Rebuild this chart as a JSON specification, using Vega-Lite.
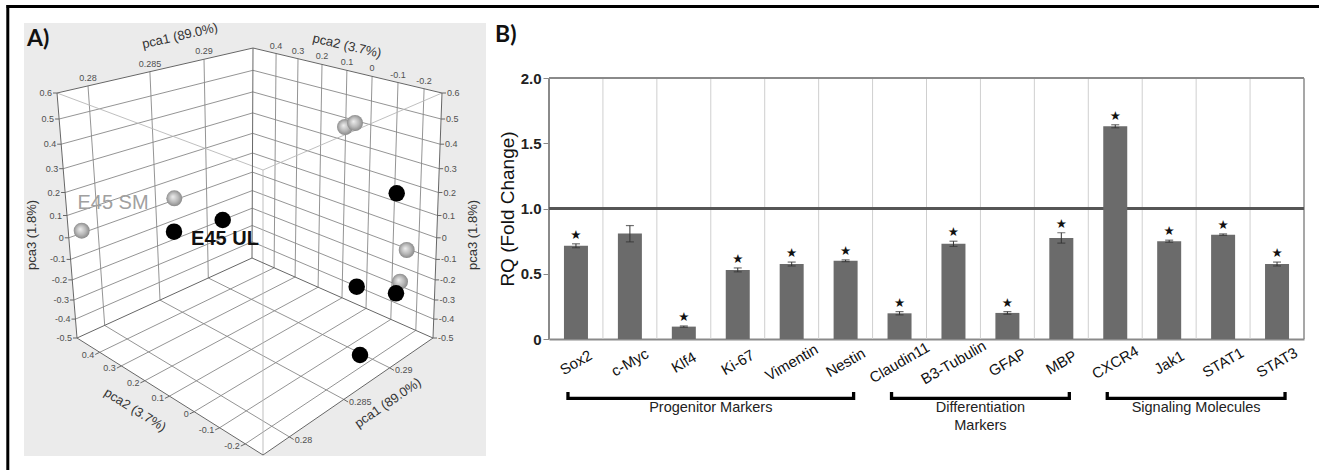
{
  "$schema": "https://vega.github.io/schema/vega-lite/v6.json",
  "padding": 0,
  "background": "white",
  "bounds": "flush",
  "spacing": 63,
  "config": {"view": {"stroke": null}, "font": "Liberation Sans"},
  "datasets": {
    "segs": [
      {"k":"g","x":59.1,"y":119,"x2":252.9,"y2":70.3},
      {"k":"g","x":61.2,"y":144.2,"x2":252.8,"y2":91.9},
      {"k":"g","x":63.2,"y":168.7,"x2":252.7,"y2":112.9},
      {"k":"g","x":65.1,"y":192.5,"x2":252.6,"y2":133.3},
      {"k":"g","x":67,"y":215.5,"x2":252.5,"y2":153},
      {"k":"g","x":68.8,"y":237.8,"x2":252.4,"y2":172.1},
      {"k":"g","x":70.6,"y":259.4,"x2":252.3,"y2":190.6},
      {"k":"g","x":72.3,"y":279.9,"x2":252.2,"y2":208.2},
      {"k":"g","x":73.9,"y":300,"x2":252.2,"y2":225.5},
      {"k":"g","x":75.5,"y":319.1,"x2":252.1,"y2":241.8},
      {"k":"g","x":252.9,"y":70.3,"x2":441.1,"y2":119},
      {"k":"g","x":252.8,"y":91.9,"x2":440.1,"y2":144.2},
      {"k":"g","x":252.7,"y":112.9,"x2":439.2,"y2":168.7},
      {"k":"g","x":252.6,"y":133.3,"x2":438.4,"y2":192.5},
      {"k":"g","x":252.5,"y":153,"x2":437.5,"y2":215.5},
      {"k":"g","x":252.4,"y":172.1,"x2":436.7,"y2":237.8},
      {"k":"g","x":252.3,"y":190.6,"x2":435.9,"y2":259.4},
      {"k":"g","x":252.2,"y":208.2,"x2":435.1,"y2":279.9},
      {"k":"g","x":252.2,"y":225.5,"x2":434.4,"y2":300},
      {"k":"g","x":252.1,"y":241.8,"x2":433.7,"y2":319.1},
      {"k":"g","x":88,"y":85.9,"x2":104.7,"y2":325.4},
      {"k":"g","x":149.9,"y":71.7,"x2":160,"y2":300.1},
      {"k":"g","x":204,"y":59.3,"x2":208.3,"y2":278},
      {"k":"g","x":276.1,"y":53.5,"x2":274.1,"y2":267.8},
      {"k":"g","x":298,"y":58.7,"x2":295.1,"y2":277},
      {"k":"g","x":322,"y":64.4,"x2":318.1,"y2":287.2},
      {"k":"g","x":346.9,"y":70.4,"x2":342,"y2":297.8},
      {"k":"g","x":372.1,"y":76.4,"x2":366,"y2":308.4},
      {"k":"g","x":398,"y":82.5,"x2":390.8,"y2":319.4},
      {"k":"g","x":424.1,"y":88.7,"x2":415.8,"y2":330.4},
      {"k":"g","x":99.7,"y":352.3,"x2":274.1,"y2":267.8},
      {"k":"g","x":121.3,"y":365.9,"x2":295.1,"y2":277},
      {"k":"g","x":144.9,"y":380.7,"x2":318.1,"y2":287.2},
      {"k":"g","x":169.4,"y":396.2,"x2":342,"y2":297.8},
      {"k":"g","x":194.2,"y":411.7,"x2":366,"y2":308.4},
      {"k":"g","x":219.7,"y":427.7,"x2":390.8,"y2":319.4},
      {"k":"g","x":245.3,"y":443.9,"x2":415.8,"y2":330.4},
      {"k":"g","x":289.4,"y":436.9,"x2":104.7,"y2":325.4},
      {"k":"g","x":343.8,"y":399.4,"x2":160,"y2":300.1},
      {"k":"g","x":389.7,"y":367.8,"x2":208.3,"y2":278},
      {"k":"e","x":57,"y":93,"x2":253,"y2":48},
      {"k":"e","x":253,"y":48,"x2":442,"y2":93},
      {"k":"e","x":57,"y":93,"x2":77,"y2":338},
      {"k":"e","x":442,"y":93,"x2":433,"y2":338},
      {"k":"e","x":253,"y":48,"x2":252,"y2":258},
      {"k":"e","x":77,"y":338,"x2":252,"y2":258},
      {"k":"e","x":252,"y":258,"x2":433,"y2":338},
      {"k":"e","x":77,"y":338,"x2":263,"y2":455},
      {"k":"e","x":263,"y":455,"x2":433,"y2":338},
      {"k":"l","x":57,"y":93,"x2":263,"y2":170},
      {"k":"l","x":442,"y":93,"x2":263,"y2":170},
      {"k":"l","x":263,"y":170,"x2":263,"y2":455},
      {"k":"t","x":57,"y":93,"x2":53,"y2":93},
      {"k":"t","x":59.1,"y":119,"x2":55.1,"y2":119},
      {"k":"t","x":61.2,"y":144.2,"x2":57.2,"y2":144.2},
      {"k":"t","x":63.2,"y":168.7,"x2":59.2,"y2":168.7},
      {"k":"t","x":65.1,"y":192.5,"x2":61.1,"y2":192.5},
      {"k":"t","x":67,"y":215.5,"x2":63,"y2":215.5},
      {"k":"t","x":68.8,"y":237.8,"x2":64.8,"y2":237.8},
      {"k":"t","x":70.6,"y":259.4,"x2":66.6,"y2":259.4},
      {"k":"t","x":72.3,"y":279.9,"x2":68.3,"y2":279.9},
      {"k":"t","x":73.9,"y":300,"x2":69.9,"y2":300},
      {"k":"t","x":75.5,"y":319.1,"x2":71.5,"y2":319.1},
      {"k":"t","x":77,"y":338,"x2":73,"y2":338},
      {"k":"t","x":442,"y":93,"x2":446,"y2":93},
      {"k":"t","x":441.1,"y":119,"x2":445.1,"y2":119},
      {"k":"t","x":440.1,"y":144.2,"x2":444.1,"y2":144.2},
      {"k":"t","x":439.2,"y":168.7,"x2":443.2,"y2":168.7},
      {"k":"t","x":438.4,"y":192.5,"x2":442.4,"y2":192.5},
      {"k":"t","x":437.5,"y":215.5,"x2":441.5,"y2":215.5},
      {"k":"t","x":436.7,"y":237.8,"x2":440.7,"y2":237.8},
      {"k":"t","x":435.9,"y":259.4,"x2":439.9,"y2":259.4},
      {"k":"t","x":435.1,"y":279.9,"x2":439.1,"y2":279.9},
      {"k":"t","x":434.4,"y":300,"x2":438.4,"y2":300},
      {"k":"t","x":433.7,"y":319.1,"x2":437.7,"y2":319.1},
      {"k":"t","x":433,"y":338,"x2":437,"y2":338},
      {"k":"t","x":99.7,"y":352.3,"x2":95.2,"y2":354.5},
      {"k":"t","x":121.3,"y":365.9,"x2":116.8,"y2":368.1},
      {"k":"t","x":144.9,"y":380.7,"x2":140.4,"y2":382.9},
      {"k":"t","x":169.4,"y":396.2,"x2":164.9,"y2":398.4},
      {"k":"t","x":194.2,"y":411.7,"x2":189.7,"y2":413.9},
      {"k":"t","x":219.7,"y":427.7,"x2":215.2,"y2":429.9},
      {"k":"t","x":245.3,"y":443.9,"x2":240.8,"y2":446.1},
      {"k":"t","x":289.4,"y":436.9,"x2":293.7,"y2":439.5},
      {"k":"t","x":343.8,"y":399.4,"x2":348.1,"y2":402},
      {"k":"t","x":389.7,"y":367.8,"x2":394,"y2":370.4},
      {"k":"b","x":6.5,"y":6.5,"x2":1319,"y2":6.5},
      {"k":"b","x":7.8,"y":5,"x2":7.8,"y2":470}
    ],
    "hex": [
      {"o":0,"x":57,"y":93},
      {"o":1,"x":253,"y":48},
      {"o":2,"x":442,"y":93},
      {"o":3,"x":433,"y":338},
      {"o":4,"x":263,"y":455},
      {"o":5,"x":77,"y":338}
    ],
    "ticklab": [
      {"s":"L","x":57,"y":93,"t":"0.6"},
      {"s":"L","x":59.1,"y":119,"t":"0.5"},
      {"s":"L","x":61.2,"y":144.2,"t":"0.4"},
      {"s":"L","x":63.2,"y":168.7,"t":"0.3"},
      {"s":"L","x":65.1,"y":192.5,"t":"0.2"},
      {"s":"L","x":67,"y":215.5,"t":"0.1"},
      {"s":"L","x":68.8,"y":237.8,"t":"0"},
      {"s":"L","x":70.6,"y":259.4,"t":"-0.1"},
      {"s":"L","x":72.3,"y":279.9,"t":"-0.2"},
      {"s":"L","x":73.9,"y":300,"t":"-0.3"},
      {"s":"L","x":75.5,"y":319.1,"t":"-0.4"},
      {"s":"L","x":77,"y":338,"t":"-0.5"},
      {"s":"R","x":442,"y":93,"t":"0.6"},
      {"s":"R","x":441.1,"y":119,"t":"0.5"},
      {"s":"R","x":440.1,"y":144.2,"t":"0.4"},
      {"s":"R","x":439.2,"y":168.7,"t":"0.3"},
      {"s":"R","x":438.4,"y":192.5,"t":"0.2"},
      {"s":"R","x":437.5,"y":215.5,"t":"0.1"},
      {"s":"R","x":436.7,"y":237.8,"t":"0"},
      {"s":"R","x":435.9,"y":259.4,"t":"-0.1"},
      {"s":"R","x":435.1,"y":279.9,"t":"-0.2"},
      {"s":"R","x":434.4,"y":300,"t":"-0.3"},
      {"s":"R","x":433.7,"y":319.1,"t":"-0.4"},
      {"s":"R","x":433,"y":338,"t":"-0.5"},
      {"s":"T","x":88,"y":85.9,"t":"0.28"},
      {"s":"T","x":149.9,"y":71.7,"t":"0.285"},
      {"s":"T","x":204,"y":59.3,"t":"0.29"},
      {"s":"T","x":276.1,"y":53.5,"t":"0.4"},
      {"s":"T","x":298,"y":58.7,"t":"0.3"},
      {"s":"T","x":322,"y":64.4,"t":"0.2"},
      {"s":"T","x":346.9,"y":70.4,"t":"0.1"},
      {"s":"T","x":372.1,"y":76.4,"t":"0"},
      {"s":"T","x":398,"y":82.5,"t":"-0.1"},
      {"s":"T","x":424.1,"y":88.7,"t":"-0.2"},
      {"s":"FL","x":95.2,"y":354.5,"t":"0.4"},
      {"s":"FL","x":116.8,"y":368.1,"t":"0.3"},
      {"s":"FL","x":140.4,"y":382.9,"t":"0.2"},
      {"s":"FL","x":164.9,"y":398.4,"t":"0.1"},
      {"s":"FL","x":189.7,"y":413.9,"t":"0"},
      {"s":"FL","x":215.2,"y":429.9,"t":"-0.1"},
      {"s":"FL","x":240.8,"y":446.1,"t":"-0.2"},
      {"s":"FR","x":293.7,"y":439.5,"t":"0.28"},
      {"s":"FR","x":348.1,"y":402,"t":"0.285"},
      {"s":"FR","x":394,"y":370.4,"t":"0.29"}
    ],
    "balls": [
      {"g":"SM","x":345,"y":127},
      {"g":"SM","x":355,"y":123},
      {"g":"SM","x":174.3,"y":198.3},
      {"g":"SM","x":81.7,"y":230.7},
      {"g":"SM","x":406.7,"y":250},
      {"g":"SM","x":400,"y":281.7},
      {"g":"UL","x":396.7,"y":193.3},
      {"g":"UL","x":222.7,"y":220},
      {"g":"UL","x":174,"y":231.7},
      {"g":"UL","x":356.7,"y":286.7},
      {"g":"UL","x":396,"y":293.3},
      {"g":"UL","x":360,"y":355}
    ],
    "genes": [
      {"gene":"Sox2","value":0.715,"lo":0.70,"hi":0.73,"sig":true},
      {"gene":"c-Myc","value":0.81,"lo":0.745,"hi":0.87,"sig":false},
      {"gene":"Klf4","value":0.095,"lo":0.09,"hi":0.10,"sig":true},
      {"gene":"Ki-67","value":0.53,"lo":0.515,"hi":0.545,"sig":true},
      {"gene":"Vimentin","value":0.575,"lo":0.56,"hi":0.59,"sig":true},
      {"gene":"Nestin","value":0.60,"lo":0.593,"hi":0.607,"sig":true},
      {"gene":"Claudin11","value":0.197,"lo":0.185,"hi":0.21,"sig":true},
      {"gene":"B3-Tubulin","value":0.73,"lo":0.71,"hi":0.75,"sig":true},
      {"gene":"GFAP","value":0.20,"lo":0.19,"hi":0.21,"sig":true},
      {"gene":"MBP","value":0.775,"lo":0.735,"hi":0.815,"sig":true},
      {"gene":"CXCR4","value":1.632,"lo":1.62,"hi":1.643,"sig":true},
      {"gene":"Jak1","value":0.75,"lo":0.742,"hi":0.758,"sig":true},
      {"gene":"STAT1","value":0.80,"lo":0.795,"hi":0.806,"sig":true},
      {"gene":"STAT3","value":0.575,"lo":0.56,"hi":0.59,"sig":true}
    ],
    "groups": [
      {"g":"Progenitor Markers","s":"Sox2","e":"Nestin","m":"Ki-67"},
      {"g":"Differentiation\nMarkers","s":"Claudin11","e":"MBP","m":"GFAP"},
      {"g":"Signaling Molecules","s":"CXCR4","e":"STAT3","m":"STAT1"}
    ]
  },
  "hconcat": [
    {
      "width": 486,
      "height": 470,
      "encoding": {
        "x": {"field": "x", "type": "quantitative", "scale": {"domain": [0, 486], "nice": false, "zero": false}, "axis": null},
        "y": {"field": "y", "type": "quantitative", "scale": {"domain": [0, 470], "nice": false, "zero": false, "reverse": true}, "axis": null}
      },
      "layer": [
        {"data": {"values": [{"x": 24, "y": 23, "x2": 486, "y2": 456}]}, "mark": {"type": "rect", "color": "#ebebeb"}, "encoding": {"x2": {"field": "x2"}, "y2": {"field": "y2"}}},
        {"data": {"name": "hex"}, "mark": {"type": "line", "interpolate": "linear-closed", "fill": "#ffffff", "stroke": "#ffffff", "strokeWidth": 0.5}, "encoding": {"order": {"field": "o", "type": "quantitative"}}},
        {"data": {"name": "segs"}, "transform": [{"filter": "datum.k == 'g'"}], "mark": {"type": "rule", "color": "#888888", "strokeWidth": 0.9}, "encoding": {"x2": {"field": "x2"}, "y2": {"field": "y2"}}},
        {"data": {"name": "segs"}, "transform": [{"filter": "datum.k == 'l'"}], "mark": {"type": "rule", "color": "#b8b8b8", "strokeWidth": 0.9}, "encoding": {"x2": {"field": "x2"}, "y2": {"field": "y2"}}},
        {"data": {"name": "segs"}, "transform": [{"filter": "datum.k == 'e' || datum.k == 't'"}], "mark": {"type": "rule", "color": "#666666", "strokeWidth": 1}, "encoding": {"x2": {"field": "x2"}, "y2": {"field": "y2"}}},
        {"data": {"name": "segs"}, "transform": [{"filter": "datum.k == 'b'"}], "mark": {"type": "rule", "color": "#000000", "strokeWidth": 3}, "encoding": {"x2": {"field": "x2"}, "y2": {"field": "y2"}}},
        {"data": {"name": "balls"}, "transform": [{"filter": "datum.g == 'SM'"}], "mark": {"type": "point", "filled": true, "opacity": 1, "size": 256, "color": {"gradient": "radial", "x1": 0.4, "y1": 0.4, "r1": 0, "x2": 0.5, "y2": 0.5, "r2": 0.55, "stops": [{"offset": 0, "color": "#eeeeee"}, {"offset": 0.55, "color": "#b8b8b8"}, {"offset": 1, "color": "#808080"}]}}},
        {"data": {"name": "balls"}, "transform": [{"filter": "datum.g == 'UL'"}], "mark": {"type": "point", "filled": true, "opacity": 1, "size": 272, "color": "#000000"}},
        {"data": {"name": "ticklab"}, "transform": [{"filter": "datum.s == 'L'"}], "mark": {"type": "text", "fontSize": 9, "color": "#505050", "align": "right", "baseline": "middle", "dx": -5}, "encoding": {"text": {"field": "t"}}},
        {"data": {"name": "ticklab"}, "transform": [{"filter": "datum.s == 'R'"}], "mark": {"type": "text", "fontSize": 9, "color": "#505050", "align": "left", "baseline": "middle", "dx": 5}, "encoding": {"text": {"field": "t"}}},
        {"data": {"name": "ticklab"}, "transform": [{"filter": "datum.s == 'T'"}], "mark": {"type": "text", "fontSize": 9, "color": "#505050", "align": "center", "baseline": "bottom", "dy": -3}, "encoding": {"text": {"field": "t"}}},
        {"data": {"name": "ticklab"}, "transform": [{"filter": "datum.s == 'FL'"}], "mark": {"type": "text", "fontSize": 9, "color": "#505050", "align": "right", "baseline": "middle", "dx": -1}, "encoding": {"text": {"field": "t"}}},
        {"data": {"name": "ticklab"}, "transform": [{"filter": "datum.s == 'FR'"}], "mark": {"type": "text", "fontSize": 9, "color": "#505050", "align": "left", "baseline": "middle", "dx": 1}, "encoding": {"text": {"field": "t"}}},
        {"data": {"values": [{"x": 180, "y": 36, "t": "pca1 (89.0%)"}]}, "mark": {"type": "text", "fontSize": 13, "color": "#333333", "angle": -13, "align": "center", "baseline": "middle"}, "encoding": {"text": {"field": "t"}}},
        {"data": {"values": [{"x": 347, "y": 46, "t": "pca2 (3.7%)"}]}, "mark": {"type": "text", "fontSize": 13, "color": "#333333", "angle": 13, "align": "center", "baseline": "middle"}, "encoding": {"text": {"field": "t"}}},
        {"data": {"values": [{"x": 31.5, "y": 235, "t": "pca3 (1.8%)"}, {"x": 473, "y": 235, "t": "pca3 (1.8%)"}]}, "mark": {"type": "text", "fontSize": 13, "color": "#333333", "angle": -90, "align": "center", "baseline": "middle"}, "encoding": {"text": {"field": "t"}}},
        {"data": {"values": [{"x": 135, "y": 410, "t": "pca2 (3.7%)"}]}, "mark": {"type": "text", "fontSize": 13, "color": "#333333", "angle": 32, "align": "center", "baseline": "middle"}, "encoding": {"text": {"field": "t"}}},
        {"data": {"values": [{"x": 388, "y": 403, "t": "pca1 (89.0%)"}]}, "mark": {"type": "text", "fontSize": 13, "color": "#333333", "angle": -34.5, "align": "center", "baseline": "middle"}, "encoding": {"text": {"field": "t"}}},
        {"data": {"values": [{"x": 113, "y": 202.5, "t": "E45 SM"}]}, "mark": {"type": "text", "fontSize": 20, "color": "#a0a0a0", "align": "center", "baseline": "middle"}, "encoding": {"text": {"field": "t"}}},
        {"data": {"values": [{"x": 225, "y": 239, "t": "E45 UL"}]}, "mark": {"type": "text", "fontSize": 20, "fontWeight": "bold", "color": "#111111", "align": "center", "baseline": "middle"}, "encoding": {"text": {"field": "t"}}},
        {"data": {"values": [{"x": 27, "y": 45.5, "t": "A)"}, {"x": 495, "y": 42, "t": "B)"}]}, "mark": {"type": "text", "font": "Lato", "fontSize": 23, "fontWeight": "bold", "color": "#111111", "align": "left", "baseline": "alphabetic"}, "encoding": {"text": {"field": "t"}}}
      ]
    },
    {
      "width": 755,
      "height": 339,
      "data": {"name": "genes"},
      "encoding": {
        "x": {
          "field": "gene", "type": "nominal",
          "scale": {"domain": ["Sox2","c-Myc","Klf4","Ki-67","Vimentin","Nestin","Claudin11","B3-Tubulin","GFAP","MBP","CXCR4","Jak1","STAT1","STAT3"], "paddingInner": 0, "paddingOuter": 0},
          "axis": {"title": null, "labelAngle": -30, "labelAlign": "center", "labelBaseline": "middle", "labelPadding": 23, "ticks": false, "domain": true, "domainColor": "#8a8a8a", "domainWidth": 2, "labelFontSize": 15, "labelColor": "#111111", "grid": false}
        }
      },
      "layer": [
        {"mark": {"type": "rule", "color": "#cfcfcf", "strokeWidth": 1}, "encoding": {"x": {"field": "gene", "type": "nominal", "bandPosition": 0}, "y": {"datum": 0}, "y2": {"datum": 2}}},
        {"transform": [{"filter": "datum.gene == 'STAT3'"}], "mark": {"type": "rule", "color": "#8a8a8a", "strokeWidth": 1.5}, "encoding": {"x": {"field": "gene", "type": "nominal", "bandPosition": 1}, "y": {"datum": 0}, "y2": {"datum": 2}}},
        {"transform": [{"filter": "datum.gene == 'Sox2'"}], "mark": {"type": "rule", "color": "#8a8a8a", "strokeWidth": 2}, "encoding": {"x": {"field": "gene", "type": "nominal", "bandPosition": 0}, "y": {"datum": 0}, "y2": {"datum": 2}}},
        {"mark": {"type": "rule", "color": "#8a8a8a", "strokeWidth": 1.5}, "encoding": {"x": null, "y": {"datum": 2}}},
        {"mark": {"type": "rule", "color": "#555555", "strokeWidth": 1.5}, "encoding": {"x": null, "y": {"datum": 1}}},
        {
          "mark": {"type": "bar", "width": 24, "color": "#6b6b6b"},
          "encoding": {
            "y": {"field": "value", "type": "quantitative",
              "scale": {"domain": [0, 2.6], "nice": false, "zero": false},
              "axis": {"values": [0, 0.5, 1, 1.5, 2], "domain": false, "grid": false, "labelExpr": "datum.value == 0 ? '0' : format(datum.value, '.1f')", "tickSize": 6, "tickColor": "#8a8a8a", "labelFontWeight": "bold", "labelFontSize": 15, "labelColor": "#222222", "labelPadding": 2, "title": "RQ (Fold Change)", "titleFontSize": 19, "titleFontWeight": "normal", "titleColor": "#111111", "titlePadding": 3, "titleY": 208.5}}
          }
        },
        {"mark": {"type": "rule", "color": "#333333", "strokeWidth": 1}, "encoding": {"y": {"field": "lo", "type": "quantitative"}, "y2": {"field": "hi"}}},
        {"mark": {"type": "tick", "size": 8, "thickness": 1.2, "color": "#333333"}, "encoding": {"y": {"field": "hi", "type": "quantitative"}}},
        {"mark": {"type": "tick", "size": 8, "thickness": 1.2, "color": "#333333"}, "encoding": {"y": {"field": "lo", "type": "quantitative"}}},
        {"transform": [{"filter": "datum.sig"}], "mark": {"type": "text", "text": "★", "font": "DejaVu Sans", "fontSize": 12.5, "color": "#111111", "baseline": "middle", "dy": -9}, "encoding": {"y": {"field": "hi", "type": "quantitative"}}},
        {"data": {"name": "groups"}, "mark": {"type": "rule", "color": "#000000", "strokeWidth": 3.3, "xOffset": -8, "x2Offset": 8}, "encoding": {"x": {"field": "s", "type": "nominal", "bandPosition": 0.5}, "x2": {"field": "e", "bandPosition": 0.5}, "y": {"datum": -0.4548}}},
        {"data": {"name": "groups"}, "mark": {"type": "rule", "color": "#000000", "strokeWidth": 3.3, "xOffset": -8}, "encoding": {"x": {"field": "s", "type": "nominal", "bandPosition": 0.5}, "y": {"datum": -0.4065}, "y2": {"datum": -0.4679}}},
        {"data": {"name": "groups"}, "mark": {"type": "rule", "color": "#000000", "strokeWidth": 3.3, "xOffset": 8}, "encoding": {"x": {"field": "e", "type": "nominal", "bandPosition": 0.5}, "y": {"datum": -0.4065}, "y2": {"datum": -0.4679}}},
        {"data": {"name": "groups"}, "mark": {"type": "text", "fontSize": 14.5, "color": "#222222", "align": "center", "baseline": "alphabetic", "lineBreak": "\n", "lineHeight": 17.7}, "encoding": {"x": {"field": "m", "type": "nominal", "bandPosition": 0}, "y": {"datum": -0.563}, "text": {"field": "g"}}}
      ]
    }
  ]
}
